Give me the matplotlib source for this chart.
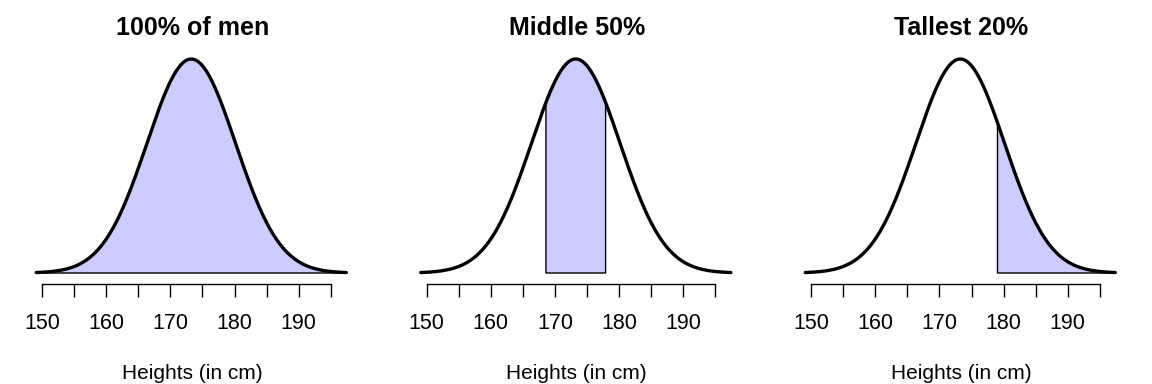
import numpy as np
import matplotlib
matplotlib.use("Agg")
from matplotlib import pyplot as plt

plt.rcParams['font.family'] = ['Liberation Sans', 'DejaVu Sans']

# normal model of men's heights
mean_h = 173.25
sd_h = 6.9
curve_lo = 149.1
curve_hi = 197.4

titles = ["100% of men", "Middle 50%", "Tallest 20%"]
shade_lo = [149.1, 168.6, 179.05]
shade_hi = [197.4, 177.9, 197.4]

tick_pos = [150, 155, 160, 165, 170, 175, 180, 185, 190, 195]
tick_lab = ["150", "", "160", "", "170", "", "180", "", "190", ""]

fill_col = "#CCCCFF"

W, H = 1152, 384
fig = plt.figure(figsize=(W / 100, H / 100), dpi=100)

pxcm = 6.42
xlim = (148.0, 198.8)
peak = 1 / (sd_h * np.sqrt(2 * np.pi))


def dens(x):
    return np.exp(-0.5 * ((x - mean_h) / sd_h) ** 2) / (sd_h * np.sqrt(2 * np.pi))


for i in range(3):
    left_px = 42 + 384.5 * i - (150 - xlim[0]) * pxcm
    width_px = (xlim[1] - xlim[0]) * pxcm
    ax = fig.add_axes([left_px / W, (H - 273) / H, width_px / W, (273 - 59) / H])

    xs = np.linspace(curve_lo, curve_hi, 400)
    ax.plot(xs, dens(xs), color="black", lw=2.4, clip_on=False, zorder=3,
            solid_capstyle="round")

    sx = np.linspace(shade_lo[i], shade_hi[i], 300)
    px = np.concatenate([[shade_lo[i]], sx, [shade_hi[i]]])
    py = np.concatenate([[0], dens(sx), [0]])
    ax.fill(px, py, facecolor=fill_col, edgecolor="black", lw=1.0,
            clip_on=False, zorder=2)

    ax.set_xlim(*xlim)
    ax.set_ylim(0, peak)
    for s in ["top", "right", "left"]:
        ax.spines[s].set_visible(False)
    ax.spines["bottom"].set_position(("outward", 8))
    ax.spines["bottom"].set_bounds(150, 195)
    ax.spines["bottom"].set_linewidth(1.0)
    ax.set_yticks([])
    ax.set_xticks(tick_pos)
    ax.set_xticklabels(tick_lab, fontsize=15.5)
    ax.tick_params(axis="x", length=9, width=1.0, pad=11.5)
    ax.set_xlabel("Heights (in cm)", fontsize=15, labelpad=22)
    ax.set_title(titles[i], fontsize=18, fontweight="bold", pad=17)

fig.savefig("out.png", dpi=100)
